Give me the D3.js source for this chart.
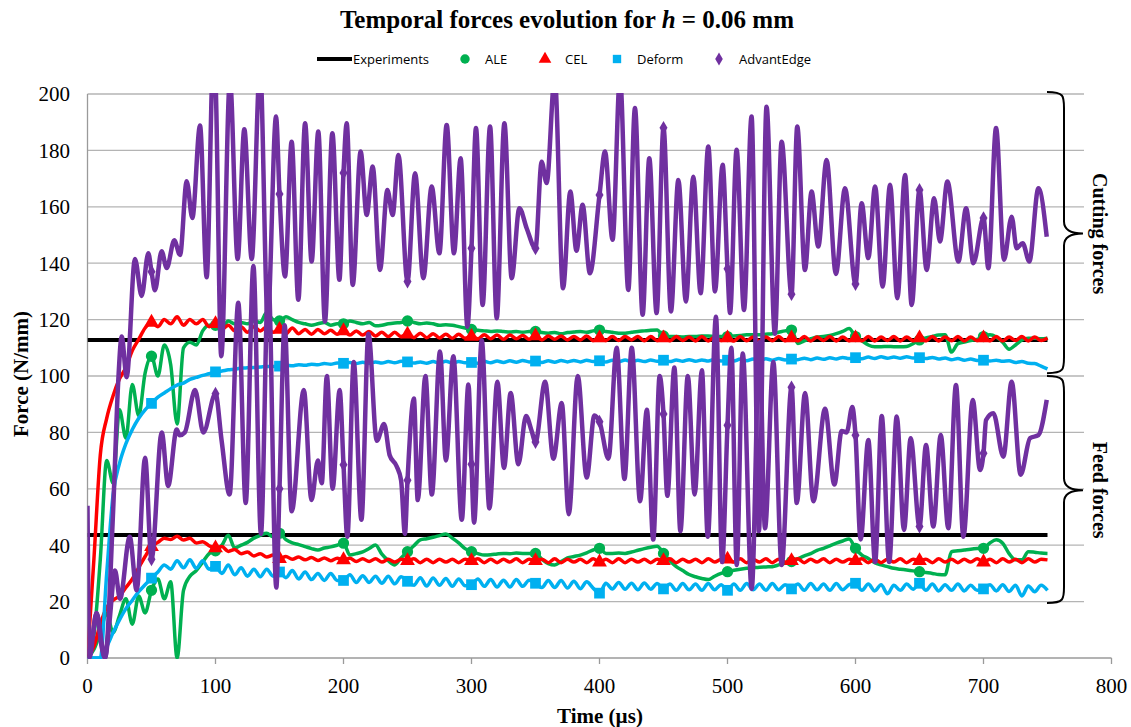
<!DOCTYPE html>
<html>
<head>
<meta charset="utf-8">
<script src="https://cdn.jsdelivr.net/npm/d3@7"></script>
<style>
body { margin: 0; background: #fff; }
svg { display: block; }
</style>
</head>
<body>
<svg id="chart" width="1131" height="727"></svg>
<script>
// sampling grid of the FE runs (µs)
const timeSteps = d3.range(0, 751, 5);

const xTicks = [0, 100, 200, 300, 400, 500, 600, 700, 800];
const yTicks = [0, 20, 40, 60, 80, 100, 120, 140, 160, 180, 200];

// experiments (N/mm)
const expCutting = [[0, 112.8], [750, 112.8]];
const expFeed = [[0, 43.6], [750, 43.6]];

// ALE
const aleCutting = [
	0, 8, 35, 70, 62, 88, 78, 97, 86, 101,
	107, 100, 111, 104, 83, 110, 112, 111, 116, 118,
	118, 117, 119.5, 118.5, 119, 118.5, 119.5, 119, 122.5, 120,
	119.5, 121, 120, 119, 118.5, 118, 118.5, 119, 118, 118.5,
	118.5, 119.5, 119, 118.5, 119, 117.8, 118, 118.5, 118.8, 119,
	119.5, 119, 118.5, 118.8, 118.5, 118, 118.2, 118, 117.5, 117,
	116.5, 116.2, 116, 115.8, 116, 115.8, 115.6, 115.8, 115.5, 115.8,
	115.8, 115.4, 115.2, 115.4, 115, 115.4, 115.6, 115.8, 115.5, 116,
	116.3, 115.8, 115.5, 115.2, 115.2, 115.5, 115.8, 116, 116.2, 116.3,
	114.2, 114, 114, 113.8, 114, 114, 114.2, 114.2, 114, 114,
	114, 114.2, 114.4, 114.6, 114.6, 114.6, 114.8, 115, 115.5, 116,
	116.3, 111.5, 112.5, 113.2, 113.8, 114, 114.4, 115, 115.8, 116.8,
	114, 112.5, 111, 110.4, 110.4, 110.5, 110.4, 110.4, 110.5, 111.5,
	112.8, 113.5, 114, 114.5, 114.6, 108.5, 111.5, 112, 112.6, 113,
	114, 114.6, 113.8, 112, 109.5, 111, 112.8, 113.4, 113.4, 113.2,
	113.4
];
const aleFeed = [
	0, 3, 9, 16, 9, 15, 21, 12, 22, 16,
	24, 28, 21, 27, 0, 24, 29, 31, 34, 37,
	38, 40, 43.5, 39, 40, 41, 42.5, 43.5, 44.2, 43,
	44.2, 42, 40.8, 40.2, 39.5, 38.8, 38.3, 39, 39.4, 40,
	40.7, 36.5, 37, 37.6, 38.8, 40.1, 36.8, 34.5, 33, 35.5,
	37.7, 39.8, 41.9, 42.3, 42.8, 43.4, 44, 42.5, 40.8, 38.8,
	37.7, 37, 36.5, 36.6, 36.9, 37.1, 37, 37.2, 37.1, 37.1,
	37.1, 35, 33.5, 33, 34.2, 35.5, 36, 36.5, 37.3, 38.3,
	38.9, 37.1, 37.1, 37.2, 37.1, 37.6, 38.2, 38.8, 39.3, 39.6,
	37.1, 34.5, 32.4, 31, 29.6, 28.8, 28.2, 27.8, 29, 30,
	30.6, 31.1, 31.5, 31.8, 32, 32.2, 32.3, 32.4, 33, 33.7,
	34.2, 35.2, 36.2, 37, 38.2, 38.9, 39.8, 40.7, 41.5, 42.2,
	38.9, 36.5, 35.3, 33.8, 33, 32.4, 31.8, 31.5, 31.2, 30.9,
	30.6, 30.3, 30, 29.6, 29.5, 37.7, 38, 38.3, 38.6, 38.8,
	38.9, 40.8, 41.9, 40.7, 37, 34.8, 34.8, 37.7, 37.5, 37.2,
	37.1
];

// CEL
const celCutting = [
	0, 35, 72, 85, 93, 99, 103, 109, 113, 117,
	119, 117.5, 120, 118.5, 121, 118, 120, 118.5, 120, 117.5,
	118.5, 116.5, 118, 116, 117.5, 115.5, 117.5, 116, 117.5, 115.5,
	116.5, 115, 117, 115, 116.5, 114.8, 116.5, 115, 116.2, 114.8,
	116, 114.5, 116, 114.5, 115.8, 114.2, 115.5, 114, 115.5, 114,
	114.8, 113.6, 115.2, 113.6, 115, 113.5, 114.8, 113.4, 114.8, 113.4,
	114, 113.2, 114.6, 113.2, 114.5, 113, 114.5, 113.2, 114.4, 113,
	114.2, 112.8, 114.2, 113, 114.2, 112.8, 114, 112.8, 114.2, 112.6,
	113.5, 112.6, 114, 112.6, 114, 112.8, 114, 112.5, 114, 112.6,
	113.5, 112.5, 114, 112.6, 113.8, 112.4, 114, 112.4, 113.8, 112.6,
	113.5, 112.4, 114, 112.5, 113.8, 112.4, 113.8, 112.5, 114, 112.5,
	113.5, 112.5, 114, 112.4, 113.8, 112.6, 114, 112.4, 113.8, 112.5,
	113.5, 112.5, 114, 112.4, 113.8, 112.6, 114, 112.4, 113.8, 112.5,
	113.5, 112.5, 114, 112.4, 113.8, 112.5, 114, 112.4, 113.8, 112.6,
	113.5, 112.5, 114, 112.4, 113.8, 112.6, 114, 112.4, 113.8, 112.6,
	113.5
];
const celFeed = [
	0, 4, 12, 18, 20.5, 22, 25, 28, 32, 36,
	39.5, 41, 42.5, 42, 43.2, 41.8, 42.5, 40.8, 41.2, 39.8,
	39, 39.5, 37.8, 38.5, 37, 37.6, 36.2, 37, 35.8, 36.5,
	35.2, 36, 35, 35.8, 34.8, 35.6, 34.6, 35.5, 34.5, 35.4,
	34.8, 35.4, 34.2, 35.2, 34.2, 35.2, 34, 35, 34, 35,
	34.5, 35.2, 33.8, 35, 33.8, 35, 34, 35, 33.8, 35,
	34.5, 35.2, 33.8, 35, 33.8, 35, 34, 35.2, 33.8, 35,
	34.5, 35, 33.8, 35.2, 33.8, 35, 34, 35, 33.8, 35.2,
	34, 35, 33.8, 35.2, 33.8, 35, 34, 35, 33.8, 35,
	34.5, 35.2, 33.8, 35, 34, 35, 33.8, 35.2, 34, 35,
	35, 34, 35.2, 33.8, 35, 34, 35.2, 33.8, 35, 34,
	34.5, 35.2, 33.8, 35, 34, 35.2, 33.8, 35, 34, 35,
	34.5, 35.2, 33.8, 35, 33.8, 35, 34, 35.2, 33.8, 35,
	34.5, 35, 33.8, 35.2, 34, 35, 33.8, 35, 34, 35.2,
	34, 35, 33.8, 35.2, 34, 35, 33.8, 35.2, 34, 35,
	34.8
];

// Deform
const defCutting = [
	0, 0, 0, 30, 58, 69, 76, 81, 85, 88,
	90.3, 92.5, 94, 95.5, 96.8, 97.5, 98.8, 99.5, 100.2, 100.8,
	101.5, 101.8, 102.2, 102.4, 102.8, 102.9, 103, 103.2, 103.4, 103.4,
	103.5, 103.8, 103.6, 104, 103.8, 104.2, 104, 104.4, 104.2, 104.6,
	104.5, 104.8, 104.4, 104.9, 104.5, 105, 104.6, 105.1, 104.7, 105.2,
	105, 104.6, 105, 104.5, 105.1, 104.6, 105.2, 104.6, 105.1, 104.7,
	104.8, 104.5, 105.2, 104.7, 105.3, 104.8, 105.4, 104.9, 105.5, 105,
	105.3, 104.8, 105.4, 104.9, 105.5, 105, 105.5, 105, 105.6, 105.1,
	105.4, 105, 105.6, 105, 105.7, 105.1, 105.6, 105.1, 105.7, 105.2,
	105.6, 105.1, 105.7, 105.2, 105.8, 105.2, 105.7, 105.3, 105.9, 105.3,
	105.6, 105.3, 106, 105.4, 106, 105.5, 106.1, 105.6, 106.2, 105.7,
	106, 105.8, 106.3, 105.8, 106.4, 105.9, 106.5, 106, 106.6, 106.2,
	106.5, 106.1, 106.7, 106.2, 106.8, 106.3, 106.7, 106.3, 106.8, 106.4,
	106.5, 106.2, 106.6, 106, 106.4, 105.8, 106.2, 105.6, 106, 105.5,
	105.6, 105.3, 105.6, 105.2, 105.4, 104.8, 105.1, 104.5, 104.4, 103.5,
	102.5
];
const defFeed = [
	0, 0, 0, 4, 9, 13.5, 17.5, 20.5, 23.5, 26,
	28.3, 30.5, 33, 31.5, 34.5, 32, 34.8, 31.8, 34.5, 31.5,
	32.5, 30, 33, 29.5, 32, 29, 31.5, 28.8, 31.5, 29,
	30.5, 28.5, 31, 28, 30.5, 27.8, 30, 27.5, 30, 27.5,
	27.5, 29.5, 26.8, 29.2, 26.8, 29, 26.5, 29, 26.3, 28.8,
	27.2, 25.8, 28.5, 25.5, 28.4, 25.8, 28.2, 25.4, 28, 25.6,
	26, 28, 25.4, 27.8, 25.2, 27.6, 25.2, 27.8, 25.4, 27.6,
	26.5, 25, 27.5, 25, 27.5, 24.8, 27.2, 24.6, 27, 24.8,
	23, 26.5, 24.5, 26.8, 24.4, 26.5, 24.2, 26.6, 24.4, 26.4,
	24.5, 26.2, 24, 26.4, 24.2, 26.2, 24, 26.4, 24.2, 26,
	24, 26.2, 24, 26.4, 24.2, 26.2, 24, 26.4, 24.2, 26,
	24.5, 26.2, 24, 26.4, 24.2, 26.2, 24, 26.4, 24.2, 26,
	26.5, 24, 26.2, 23.8, 26, 22.8, 25.8, 24, 26.2, 24.4,
	26.5, 24, 26.2, 23.8, 26, 24, 26.2, 23.8, 25.8, 24,
	24.5, 26, 23.8, 26, 23.6, 25.8, 22, 25.5, 23.5, 25.8,
	24
];

// AdvantEdge, [time, force] at the turning points of the signal
const advCutting = [
	[0, 54], [1.5, 0], [7, 16], [13.7, 0], [20, 52], [24, 98], [26.7, 114], [30.6, 99.6],
	[37.1, 141.5], [42.3, 128.4], [47.5, 143.5], [50, 137], [52.7, 130.4], [57.9, 144.2],
	[61.9, 138.3], [67.8, 148.1], [72.3, 142.9], [77.5, 169.1], [81.9, 156], [87.9, 188.8],
	[93.1, 135], [98.3, 213], [100, 205], [104.5, 107], [111.3, 205], [117.3, 141.5],
	[122.5, 187.5], [128.3, 141.5], [134.8, 210], [140.8, 120.6], [147.3, 192], [150, 164.5],
	[154.3, 135.3], [159.5, 183.1], [164.7, 127], [170, 189.6], [175.1, 140.6], [180.3, 186.7],
	[185.5, 119.3], [191.3, 186.1], [196.8, 134.1], [200, 172], [202.5, 189.6], [207.2, 132.3],
	[213.4, 179.6], [218.1, 157.1], [222.8, 174.3], [228.5, 137.6], [234.3, 166], [238.4, 157.1],
	[242.9, 178.4], [250, 133.5], [255.9, 171.9], [262.4, 134.7], [268.9, 167.2], [274.9, 143.5],
	[280.6, 189], [286.3, 143.5], [291.5, 177.2], [296.8, 117.5], [300, 145.3], [303.5, 187.9],
	[308.7, 125.2], [314.5, 188.5], [319.7, 120.5], [325.7, 189.6], [331.4, 134.7], [337.4, 159.5],
	[343.1, 152.4], [350, 145.3], [354.8, 176], [358.7, 168.4], [365, 206], [371.5, 131.1],
	[377.2, 165.4], [382, 144.4], [386.8, 160.7], [392.5, 136.4], [400, 164.2], [404.3, 179.6],
	[410.2, 148.3], [416, 206], [422.5, 130.5], [427.7, 195], [433.7, 121.7], [438.9, 177.2],
	[444.6, 122.3], [450, 188], [455.8, 122.9], [461.6, 169.5], [467.5, 126.4], [473.3, 170.7],
	[479, 129.3], [485, 181.4], [490.2, 130], [496.2, 174.9], [500, 138], [502, 122.3],
	[507.1, 180.2], [512.9, 123.4], [518.8, 192], [524.5, 45], [530.5, 195.5], [537, 115],
	[542.3, 183.1], [550, 129], [554.5, 188.5], [560.5, 137.6], [565.7, 165.4], [570.9, 145.9],
	[577.4, 176.6], [584.7, 136.2], [591.8, 166.6], [600, 132.6], [604.8, 161.3], [610, 141.8],
	[615.3, 167.2], [621.2, 131.7], [627, 167.8], [632.7, 127.6], [638.7, 171.3], [643.9, 125.2],
	[650, 166], [655.6, 137.6], [661.4, 163], [666, 147.7], [671.8, 169], [680.4, 140.6],
	[686.4, 159.5], [692.1, 140], [700, 156], [703.8, 138.2], [709.8, 187.9], [716, 141.2],
	[722, 156.5], [725.9, 145.3], [730.6, 147.1], [735.8, 140.6], [742.9, 166.6], [749.4, 149.4]
];
const advFeed = [
	[0, 0], [4, 8], [7.2, 16], [11, 4], [13.7, 0], [17, 12], [21.5, 31], [25.4, 21], [33, 43],
	[38.4, 24], [45, 71], [50, 35], [58, 80], [63, 61], [69.7, 81], [72, 79], [76, 80], [84, 95],
	[90.5, 80], [100, 93.7], [104.8, 77], [111, 58], [117.8, 126], [123.6, 55], [129.6, 139],
	[135.5, 44], [141.3, 135], [147.5, 25], [150, 60], [154, 118], [159.5, 52], [169, 95],
	[175, 56], [180, 70], [183, 62], [187, 100], [191.5, 60], [197, 95], [200, 68.5], [203, 43],
	[208, 105], [214, 49], [219.5, 115], [226, 77], [231.7, 83], [236, 72], [241.5, 68], [245, 63],
	[248, 44], [250, 63], [255, 92], [258, 56], [264, 100], [269, 58], [275.4, 108.7], [280, 70],
	[285.8, 107], [292.4, 49], [297.6, 97], [300, 68.7], [302, 48], [308, 112.7], [314, 53],
	[320.2, 98], [325.4, 67.4], [330.6, 94], [336.6, 68.7], [342.6, 85.8], [347, 80.5],
	[350, 76.6], [357.5, 98], [364, 70.7], [370.5, 90.4], [376, 51], [383, 100], [390, 64],
	[396, 86], [400, 83.8], [407, 70.7], [413.4, 110], [419.5, 63.5], [425.2, 110], [431.7, 55.6],
	[437, 88], [442, 42], [447, 100], [450, 86.5], [453, 57.5], [458.5, 103], [463.2, 45],
	[469, 100], [474.3, 58], [480, 102], [484.6, 43], [491, 121], [495.8, 34], [500, 82.5],
	[503, 110], [507.2, 33], [511.9, 108], [518.9, 24.5], [525, 112], [529.3, 46], [535.8, 105],
	[542.3, 33], [550, 96], [554.1, 55], [560.6, 94], [567.1, 55.6], [576.2, 88.4], [583.5, 61.5],
	[589.2, 80.5], [593.1, 80], [597.5, 89], [600, 79], [604, 42], [610, 77.3], [615.3, 34],
	[620.5, 85.8], [626.3, 34], [632.2, 85.6], [637.9, 45.4], [643.1, 77.9], [650, 46.6],
	[655.1, 75.5], [660.8, 46.6], [666.6, 79.1], [672.5, 46], [678.5, 96.8], [684.3, 43],
	[691.6, 91.5], [697.3, 66.7], [700, 72.6], [702, 84.4], [707.7, 86.8], [715.5, 71.4],
	[722, 98], [729, 65], [736.4, 78], [742.9, 79], [749.4, 91.5]
];

const withTime = (vals) => vals.map((v, i) => [timeSteps[i], v]);

const models = [
	{ name: "ALE", color: "#00B050", symbol: d3.symbolCircle, size: 100, width: 3.5, sets: [withTime(aleCutting), withTime(aleFeed)] },
	{ name: "CEL", color: "#FF0000", symbol: d3.symbolTriangle, size: 95, width: 3.5, sets: [withTime(celCutting), withTime(celFeed)] },
	{ name: "Deform", color: "#00B0F0", symbol: d3.symbolSquare, size: 115, width: 3.5, sets: [withTime(defCutting), withTime(defFeed)] },
	{ name: "AdvantEdge", color: "#7030A0", symbol: d3.symbolDiamond, size: 55, width: 4.5, sets: [advCutting, advFeed] }
];

const svg = d3.select("#chart");
const serif = "'Liberation Serif', 'Times New Roman', serif";

const x = d3.scaleLinear().domain([0, 800]).range([87.5, 1111.5]);
const y = d3.scaleLinear().domain([0, 200]).range([658, 94]);

// grid
svg.append("g")
	.selectAll("line")
	.data(yTicks.filter(d => d > 0))
	.enter()
	.append("line")
	.attr("x1", x(0)).attr("x2", x(800))
	.attr("y1", d => y(d)).attr("y2", d => y(d))
	.attr("stroke", "#b4b4b4")
	.attr("stroke-width", 1.3);

// axes
svg.append("line")
	.attr("x1", x(0)).attr("x2", x(0))
	.attr("y1", y(0)).attr("y2", y(200))
	.attr("stroke", "#9a9a9a").attr("stroke-width", 1.3);
svg.append("line")
	.attr("x1", x(0)).attr("x2", x(800))
	.attr("y1", y(0)).attr("y2", y(0))
	.attr("stroke", "#9a9a9a").attr("stroke-width", 1.3);

svg.append("g")
	.selectAll("line")
	.data(xTicks)
	.enter()
	.append("line")
	.attr("x1", d => x(d)).attr("x2", d => x(d))
	.attr("y1", y(0)).attr("y2", y(0) + 6)
	.attr("stroke", "#9a9a9a").attr("stroke-width", 1.3);

svg.append("g")
	.selectAll("text")
	.data(xTicks)
	.enter()
	.append("text")
	.attr("x", d => x(d))
	.attr("y", 693)
	.attr("text-anchor", "middle")
	.style("font-family", serif)
	.style("font-size", "21px")
	.text(d => d);

svg.append("g")
	.selectAll("text")
	.data(yTicks)
	.enter()
	.append("text")
	.attr("x", 70)
	.attr("y", d => y(d))
	.attr("dy", "0.35em")
	.attr("text-anchor", "end")
	.style("font-family", serif)
	.style("font-size", "21px")
	.text(d => d);

// axis titles
svg.append("text")
	.attr("transform", "translate(28," + 374 + ") rotate(-90)")
	.attr("text-anchor", "middle")
	.style("font-family", serif)
	.style("font-weight", "bold")
	.style("font-size", "21px")
	.text("Force (N/mm)");

svg.append("text")
	.attr("x", 600)
	.attr("y", 723)
	.attr("text-anchor", "middle")
	.style("font-family", serif)
	.style("font-weight", "bold")
	.style("font-size", "21px")
	.text("Time (µs)");

// title
const title = svg.append("text")
	.attr("x", 567)
	.attr("y", 28)
	.attr("text-anchor", "middle")
	.style("font-family", serif)
	.style("font-weight", "bold")
	.style("font-size", "25px");
title.append("tspan").text("Temporal forces evolution for ");
title.append("tspan").style("font-style", "italic").text("h");
title.append("tspan").text(" = 0.06 mm");

// series
svg.append("clipPath").attr("id", "plot-clip")
	.append("rect")
	.attr("x", x(0)).attr("y", y(200) - 1)
	.attr("width", x(800) - x(0)).attr("height", y(0) - y(200) + 2);

const plot = svg.append("g").attr("clip-path", "url(#plot-clip)");

const line = d3.line()
	.x(d => x(d[0]))
	.y(d => y(d[1]));

[expCutting, expFeed].forEach(d => {
	plot.append("path")
		.attr("d", line(d))
		.attr("fill", "none")
		.attr("stroke", "#000")
		.attr("stroke-width", 4);
});

models.forEach(m => {
	const mline = d3.line()
		.x(d => x(d[0]))
		.y(d => y(d[1]))
		.curve(d3.curveMonotoneX);

	m.sets.forEach(set => {
		plot.append("path")
			.attr("d", mline(set))
			.attr("fill", "none")
			.attr("stroke", m.color)
			.attr("stroke-width", m.width)
			.attr("stroke-linejoin", "round");

		plot.selectAll(null)
			.data(set.filter(d => d[0] > 0 && d[0] <= 700 && d[0] % 50 === 0))
			.enter()
			.append("path")
			.attr("d", d3.symbol().type(m.symbol).size(m.size))
			.attr("transform", d => "translate(" + x(d[0]) + "," + y(d[1]) + ")")
			.attr("fill", m.color);
	});
});

// legend
const legendItems = [
	{ name: "Experiments", color: "#000", symbol: null, x: 317 },
	{ name: "ALE", color: "#00B050", symbol: d3.symbolCircle, size: 70, x: 465 },
	{ name: "CEL", color: "#FF0000", symbol: d3.symbolTriangle, size: 70, x: 545 },
	{ name: "Deform", color: "#00B0F0", symbol: d3.symbolSquare, size: 70, x: 617 },
	{ name: "AdvantEdge", color: "#7030A0", symbol: d3.symbolDiamond, size: 50, x: 719 }
];

const legend = svg.append("g");
legendItems.forEach(item => {
	if (item.symbol === null) {
		legend.append("line")
			.attr("x1", item.x).attr("x2", item.x + 35)
			.attr("y1", 59).attr("y2", 59)
			.attr("stroke", item.color).attr("stroke-width", 4);
		legend.append("text")
			.attr("x", item.x + 36).attr("y", 59).attr("dy", "0.35em")
			.style("font-family", "'Open Sans', sans-serif")
			.style("font-size", "13px")
			.text(item.name);
	} else {
		legend.append("path")
			.attr("d", d3.symbol().type(item.symbol).size(item.size))
			.attr("transform", "translate(" + item.x + ",59)")
			.attr("fill", item.color);
		legend.append("text")
			.attr("x", item.x + 20).attr("y", 59).attr("dy", "0.35em")
			.style("font-family", "'Open Sans', sans-serif")
			.style("font-size", "13px")
			.text(item.name);
	}
});

// braces on the right, with the white box behind their labels
svg.append("rect")
	.attr("x", 1084).attr("y", 86)
	.attr("width", 47).attr("height", 525)
	.attr("fill", "#fff");

function brace(top, bottom, tip) {
	const x0 = 1047, xm = 1064, xt = 1083;
	return "M" + x0 + "," + top +
		" C" + (xm) + "," + top + " " + xm + "," + (top + 4) + " " + xm + "," + (top + 16) +
		" L" + xm + "," + (tip - 12) +
		" C" + xm + "," + (tip - 3) + " " + (xm + 8) + "," + tip + " " + xt + "," + tip +
		" C" + (xm + 8) + "," + tip + " " + xm + "," + (tip + 3) + " " + xm + "," + (tip + 12) +
		" L" + xm + "," + (bottom - 16) +
		" C" + xm + "," + (bottom - 4) + " " + xm + "," + bottom + " " + x0 + "," + bottom;
}

svg.append("path")
	.attr("d", brace(y(200) - 2, y(101), y(150.5)))
	.attr("fill", "none").attr("stroke", "#000").attr("stroke-width", 2);
svg.append("path")
	.attr("d", brace(y(100), y(19.5), y(59.5)))
	.attr("fill", "none").attr("stroke", "#000").attr("stroke-width", 2);

[["Cutting forces", y(150.5)], ["Feed forces", y(59.5)]].forEach(d => {
	svg.append("text")
		.attr("transform", "translate(1093," + d[1] + ") rotate(90)")
		.attr("text-anchor", "middle")
		.style("font-family", serif)
		.style("font-weight", "bold")
		.style("font-size", "20px")
		.text(d[0]);
});
</script>
</body>
</html>
